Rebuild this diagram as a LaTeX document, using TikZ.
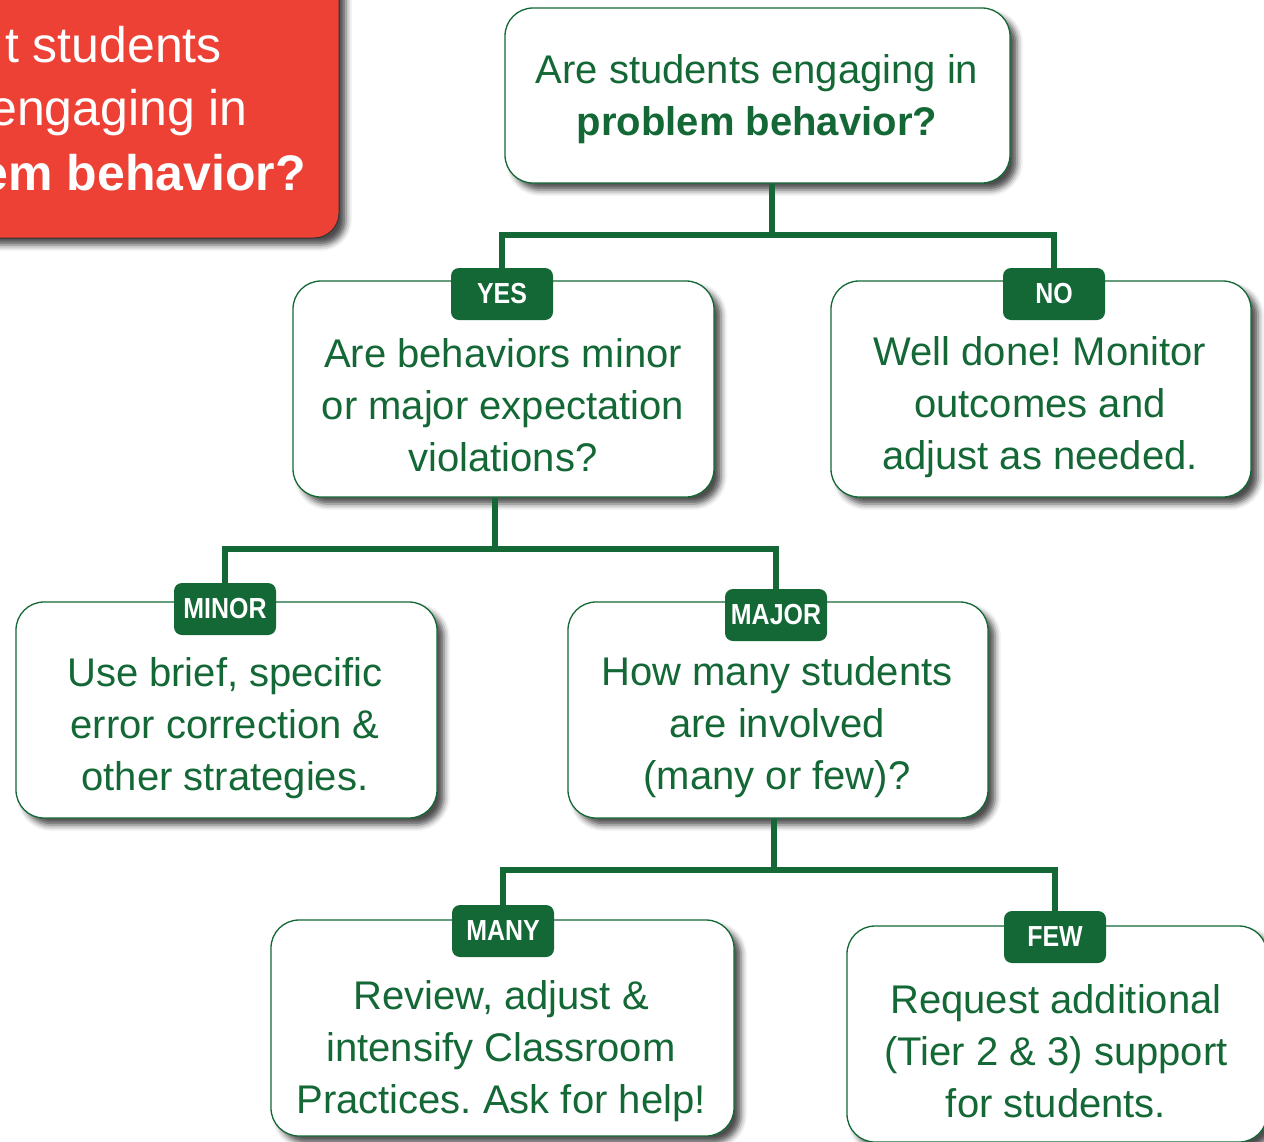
\documentclass[tikz,border=0pt]{standalone}
\usepackage{fontspec}
\setmainfont{Liberation Sans}
\newfontfamily\tagfont[FakeStretch=0.86]{Liberation Sans}
\usetikzlibrary{shadows.blur}
\definecolor{ggreen}{RGB}{19,104,54}
\definecolor{rred}{RGB}{238,65,54}
\pgfdeclarelayer{under}
\pgfdeclarelayer{wires}
\pgfsetlayers{under,wires,main}
\frenchspacing
\tikzset{
	box/.style={draw=ggreen, line width=1.3pt, fill=white, rounded corners=28pt, inner sep=0pt,
		blur shadow={shadow xshift=7pt, shadow yshift=-7pt, shadow blur radius=6pt, shadow opacity=70}},
	txt/.style={text=ggreen, align=center, font=\fontsize{40}{52}\selectfont},
	tag/.style={fill=ggreen, rounded corners=8pt, text=white, inner sep=0pt,
		font=\tagfont\bfseries\fontsize{29}{30}\selectfont, minimum width=102pt, minimum height=52pt},
	link/.style={draw=ggreen, line width=6pt, line join=miter},
	redtxt/.style={text=white, anchor=base east, inner sep=0pt, font=\fontsize{50}{64}\selectfont},
}

\begin{document}
\begin{tikzpicture}[x=1pt, y=-1pt]
	%%%%% START %%%%%
	\useasboundingbox (0,0) rectangle (1264,1141);
	
	\begin{pgfonlayer}{under}
		% red card, cut off at the page edge
		\draw[fill=rred, draw=black!80, line width=1pt, rounded corners=25pt,
			blur shadow={shadow xshift=7pt, shadow yshift=-7pt, shadow blur radius=6pt, shadow opacity=70}]
			(-60,-60) rectangle (339,238);
		
		\node[box, minimum width=505pt, minimum height=175pt] (top) at (757.5, 95.5) {};
		\node[box, minimum width=421pt, minimum height=216pt] (minmaj) at (503.5, 389) {};
		\node[box, minimum width=420pt, minimum height=216pt] (welldone) at (1041, 389) {};
		\node[box, minimum width=421pt, minimum height=216pt] (brief) at (226.5, 710) {};
		\node[box, minimum width=420pt, minimum height=216pt] (howmany) at (778, 710) {};
		\node[box, minimum width=463pt, minimum height=216pt] (review) at (502.5, 1028) {};
		\node[box, minimum width=420pt, minimum height=216pt] (request) at (1057, 1034) {};
	\end{pgfonlayer}
	
	\node[redtxt] (red1) at (222, 62) {t students};
	\node[redtxt] (red2) at (248, 125) {engaging in};
	\node[redtxt, font=\bfseries\fontsize{50}{64}\selectfont] (red3) at (306, 190) {em behavior?};
	
	\node[txt] (toptxt) at (757, 99) {Are students engaging in\\\textbf{problem behavior?}};
	\node[txt] (minmajtxt) at (503, 405) {Are behaviors minor\\or major expectation\\violations?};
	\node[txt] (welldonetxt) at (1040, 407) {Well done! Monitor\\outcomes and\\adjust as needed.};
	\node[txt] (brieftxt) at (225, 728) {Use brief, specific\\error correction \&\\other strategies.};
	\node[txt] (howmanytxt) at (777, 727) {How many students\\are involved\\(many or few)?};
	\node[txt] (reviewtxt) at (501, 1051) {Review, adjust \&\\intensify Classroom\\Practices. Ask for help!};
	\node[txt] (requesttxt) at (1056, 1051) {Request additional\\(Tier 2 \& 3) support\\for students.};
	
	\node[tag] (yes) at (502, 294) {YES};
	\node[tag] (no) at (1054, 294) {NO};
	\node[tag] (minor) at (225, 609) {MINOR};
	\node[tag] (major) at (776, 615) {MAJOR};
	\node[tag] (many) at (503, 931) {MANY};
	\node[tag] (few) at (1055, 937) {FEW};
	
	\coordinate (j1) at (772, 235);
	\coordinate (j2) at (495, 549);
	\coordinate (j3) at (774, 870);
	
	\begin{pgfonlayer}{wires}
		\draw[link] (top.south -| j1) -- (j1);
		\draw[link] (yes.north) |- (j1) -| (no.north);
		
		\draw[link] (minmaj.south -| j2) -- (j2);
		\draw[link] (minor.north) |- (j2) -| (major.north);
		
		\draw[link] (howmany.south -| j3) -- (j3);
		\draw[link] (many.north) |- (j3) -| (few.north);
	\end{pgfonlayer}
	
	%%%%% END %%%%%
\end{tikzpicture}
\end{document}
